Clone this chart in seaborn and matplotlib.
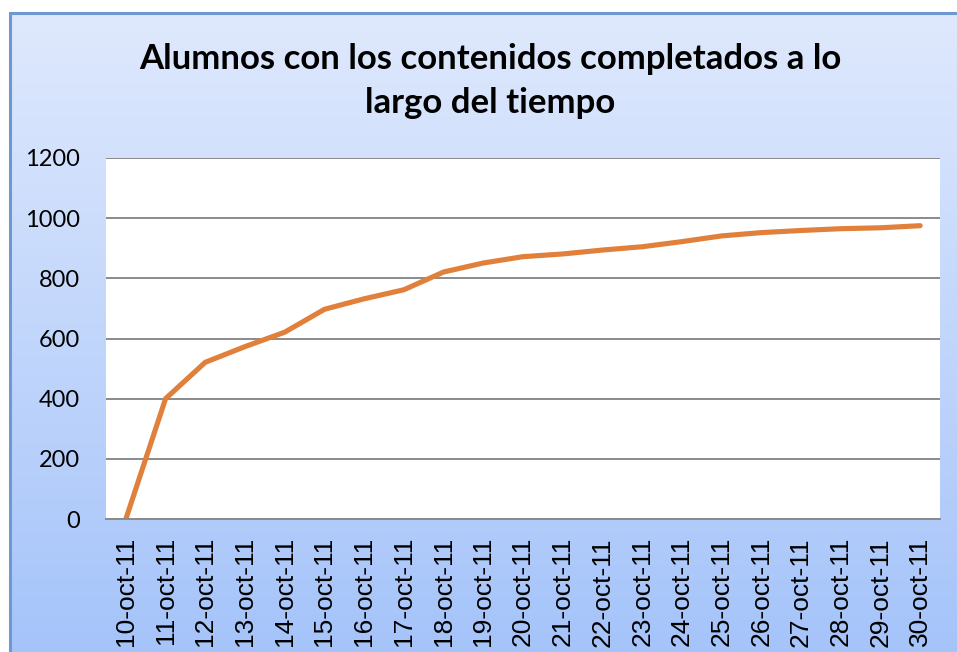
import numpy as np
import matplotlib
matplotlib.use("Agg")
import matplotlib.pyplot as plt
import seaborn as sns
import pandas as pd
from matplotlib.patches import Rectangle

# data
fechas = [
    "10-oct-11", "11-oct-11", "12-oct-11", "13-oct-11", "14-oct-11",
    "15-oct-11", "16-oct-11", "17-oct-11", "18-oct-11", "19-oct-11",
    "20-oct-11", "21-oct-11", "22-oct-11", "23-oct-11", "24-oct-11",
    "25-oct-11", "26-oct-11", "27-oct-11", "28-oct-11", "29-oct-11",
    "30-oct-11",
]
alumnos = [0, 400, 521, 573, 621, 697, 732, 762, 821, 851, 872,
           881, 894, 905, 922, 941, 952, 959, 965, 968, 975]
y_ticks = [0, 200, 400, 600, 800, 1000, 1200]

titulo = "Alumnos con los contenidos completados a lo\nlargo del tiempo"


def main():
    sns.set_style("white")
    plt.rcParams["font.family"] = ["Lato", "DejaVu Sans"]

    W, H = 957, 652
    fig = plt.figure(figsize=(W / 100, H / 100), dpi=100)
    fig.patch.set_facecolor("white")

    # chart area with vertical gradient (Excel style), cropped right and bottom
    bg = fig.add_axes([10 / W, -0.02, 1.03 - 10 / W, (H - 13) / H + 0.02])
    top = np.array([0.875, 0.914, 0.992])
    bot = np.array([0.643, 0.765, 0.980])
    t = np.linspace(0, 1, 256)[:, None]
    grad = top * (1 - t) + bot * t
    bg.imshow(grad[:, None, :], aspect="auto", extent=[0, 1, 0, 1])
    bg.add_patch(Rectangle((0, 0), 1, 1, fill=False, edgecolor="#6e98d2",
                           linewidth=2.2, transform=bg.transAxes, clip_on=False))
    bg.set_axis_off()

    fig.text(490 / W, 1 - 81 / H, titulo, ha="center", va="center",
             fontsize=25, fontweight="bold", color="black", linespacing=1.45)

    ax = fig.add_axes([106 / W, (H - 519) / H, (940 - 106) / W, (519 - 158) / H])
    ax.set_facecolor("white")

    df = pd.DataFrame({"fecha": fechas, "alumnos": alumnos})
    sns.lineplot(data=df, x="fecha", y="alumnos", ax=ax, color="#e0803a",
                 linewidth=3.7, sort=False)

    ax.set_xlim(-0.5, len(fechas) - 0.5)
    ax.set_ylim(0, 1200)
    ax.set_yticks(y_ticks)
    ax.set_yticklabels([str(v) for v in y_ticks], fontsize=17, color="black")
    ax.set_xticks(range(len(fechas)))
    ax.set_xticklabels(fechas, rotation=90, fontsize=19, color="black",
                       family=["Liberation Sans", "DejaVu Sans"])
    ax.tick_params(axis="y", length=0, pad=19)
    ax.tick_params(axis="x", length=0, pad=13)
    ax.grid(axis="y", color="#8a8a8a", linewidth=1.4)
    ax.set_axisbelow(True)
    for s in ["left", "right", "top"]:
        ax.spines[s].set_visible(False)
    ax.spines["bottom"].set_color("#8a8a8a")
    ax.spines["bottom"].set_linewidth(1.4)
    ax.set_xlabel("")
    ax.set_ylabel("")

    fig.savefig("out.png", dpi=100)


if __name__ == "__main__":
    main()
